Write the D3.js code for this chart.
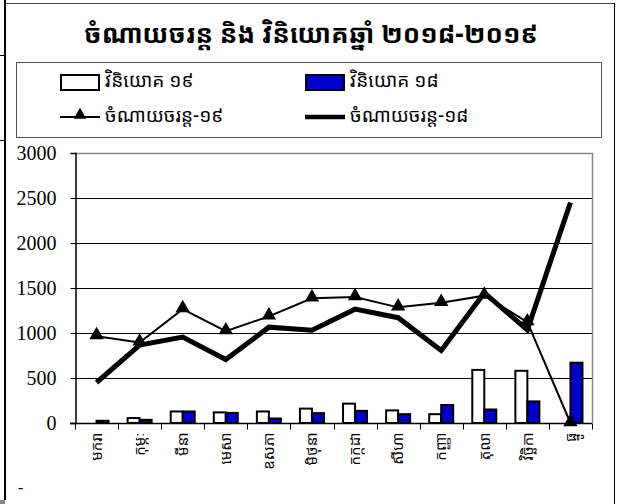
<!DOCTYPE html>
<html><head><meta charset="utf-8">
<script src="https://cdn.jsdelivr.net/npm/d3@7"></script>
<style>
html,body{margin:0;padding:0;background:#fff;}
svg{display:block;}
</style></head>
<body>
<svg id="c" width="623" height="504"></svg>
<script>
const title = "ចំណាយចរន្ត និង វិនិយោគឆ្នាំ ២០១៨-២០១៩";
const months = ["មករា","កុម្ភៈ","មីនា","មេសា","ឧសភា","មិថុនា","កក្កដា","សីហា","កញ្ញា","តុលា","វិច្ឆិកា","ធ្នូ"];
const invest19 = [0, 55, 128, 118, 128, 160, 215, 140, 98, 590, 580, 0];
const invest18 = [25, 35, 128, 112, 50, 110, 135, 98, 200, 150, 240, 670];
const current19 = [965, 895, 1265, 1020, 1185, 1385, 1400, 1285, 1335, 1415, 1120, 0];
const current18 = [450, 865, 955, 705, 1065, 1030, 1265, 1170, 805, 1445, 1035, 2450];
const yTicks = [0, 500, 1000, 1500, 2000, 2500, 3000];
const legendNames = ["វិនិយោគ ១៩", "វិនិយោគ ១៨", "ចំណាយចរន្ត-១៩", "ចំណាយចរន្ត-១៨"];

const svg = d3.select("#c");
const khmer = "'Khmer OS', 'Noto Sans Khmer', 'Khmer OS System', 'DejaVu Sans', sans-serif";

// outer frame
svg.append("line").attr("x1",5).attr("y1",0).attr("x2",5).attr("y2",500).attr("stroke","#000").attr("stroke-width",2);
svg.append("line").attr("x1",5).attr("y1",3.5).attr("x2",614).attr("y2",3.5).attr("stroke","#444").attr("stroke-width",1);
svg.append("line").attr("x1",614.5).attr("y1",3).attr("x2",614.5).attr("y2",504).attr("stroke","#000").attr("stroke-width",1);
svg.append("line").attr("x1",0).attr("y1",55.5).attr("x2",5).attr("y2",55.5).attr("stroke","#000");
svg.append("line").attr("x1",0).attr("y1",140.5).attr("x2",5).attr("y2",140.5).attr("stroke","#000");
svg.append("rect").attr("x",0).attr("y",500).attr("width",5).attr("height",4).attr("fill","#888");

// title
svg.append("text").attr("x",311).attr("y",43).attr("text-anchor","middle")
  .attr("font-family",khmer).attr("font-weight","bold").attr("font-size",26).text(title);

// legend
svg.append("rect").attr("x",16.5).attr("y",62.5).attr("width",585).attr("height",75)
  .attr("fill","#fff").attr("stroke","#555").attr("stroke-width",1);
const lg = svg.append("g").attr("font-family",khmer).attr("font-size",19);
const legCols = [60, 305];
lg.append("rect").attr("x",legCols[0]+1).attr("y",75).attr("width",38).attr("height",15).attr("fill","#fff").attr("stroke","#000").attr("stroke-width",2);
lg.append("rect").attr("x",legCols[1]+1).attr("y",75).attr("width",38).attr("height",15).attr("fill","#0000CC").attr("stroke","#000").attr("stroke-width",2);
lg.append("text").attr("x",legCols[0]+45).attr("y",87).text(legendNames[0]);
lg.append("text").attr("x",legCols[1]+45).attr("y",87).text(legendNames[1]);
lg.append("line").attr("x1",legCols[0]).attr("x2",legCols[0]+40).attr("y1",117).attr("y2",117).attr("stroke","#000").attr("stroke-width",2);
lg.append("path").attr("d",d3.symbol(d3.symbolTriangle,70)()).attr("transform",`translate(${legCols[0]+20},115)`).attr("fill","#000");
lg.append("line").attr("x1",legCols[1]).attr("x2",legCols[1]+40).attr("y1",117).attr("y2",117).attr("stroke","#000").attr("stroke-width",4.5);
lg.append("text").attr("x",legCols[0]+45).attr("y",122).text(legendNames[2]);
lg.append("text").attr("x",legCols[1]+45).attr("y",122).text(legendNames[3]);

// plot
const x0 = 75, x1 = 592, yTop = 153, yBot = 423;
const x = d3.scaleBand().domain(months).range([x0, x1]).paddingInner(0).paddingOuter(0);
const y = d3.scaleLinear().domain([0, 3000]).range([yBot, yTop]);

svg.append("g").selectAll("line").data(yTicks.filter(d=>d>0 && d<3000)).join("line")
  .attr("x1",x0).attr("x2",x1).attr("y1",d=>Math.round(y(d))+0.5).attr("y2",d=>Math.round(y(d))+0.5)
  .attr("stroke","#000").attr("stroke-width",1);
svg.append("line").attr("x1",x0).attr("x2",x1+1).attr("y1",yTop+0.5).attr("y2",yTop+0.5).attr("stroke","#888").attr("stroke-width",1.5);
svg.append("line").attr("x1",x1+0.5).attr("x2",x1+0.5).attr("y1",yTop).attr("y2",yBot).attr("stroke","#888").attr("stroke-width",1.5);

const bw = 12;
const bars = svg.append("g");
bars.selectAll("rect.w").data(months).join("rect").attr("class","w")
  .attr("x",(d)=>x(d)+x.bandwidth()/2-bw)
  .attr("y",(d,i)=>y(invest19[i]))
  .attr("width",bw).attr("height",(d,i)=>Math.max(0,yBot-y(invest19[i])))
  .attr("fill","#fff").attr("stroke","#000").attr("stroke-width",(d,i)=>invest19[i]>0?2:0);
bars.selectAll("rect.b").data(months).join("rect").attr("class","b")
  .attr("x",(d)=>x(d)+x.bandwidth()/2)
  .attr("y",(d,i)=>y(invest18[i]))
  .attr("width",bw).attr("height",(d,i)=>Math.max(0,yBot-y(invest18[i])))
  .attr("fill","#0000CC").attr("stroke","#000").attr("stroke-width",2);

const yAxis = d3.axisLeft(y).tickValues(yTicks).tickSize(5).tickPadding(14).tickFormat(d3.format("d"));
const ya = svg.append("g").attr("transform",`translate(${x0+0.5},0)`).call(yAxis);
ya.select(".domain").attr("stroke","#000").attr("stroke-width",1.5);
ya.selectAll("text").attr("font-family","'Liberation Serif','Times New Roman',serif").attr("font-size",20).attr("fill","#000");

const xa = svg.append("g").attr("transform",`translate(0,${yBot+0.5})`);
xa.append("line").attr("x1",x0-5).attr("x2",x1).attr("y1",0).attr("y2",0).attr("stroke","#000").attr("stroke-width",1.5);
const edges = months.map(m=>x(m)).concat([x1]);
xa.selectAll("line.t").data(edges).join("line").attr("class","t")
  .attr("x1",d=>Math.round(d)+0.5).attr("x2",d=>Math.round(d)+0.5).attr("y1",0).attr("y2",6).attr("stroke","#000");
xa.selectAll("text").data(months).join("text")
  .attr("transform",d=>`translate(${x(d)+x.bandwidth()/2},9) rotate(-90)`)
  .attr("text-anchor","end").attr("dy","0.35em")
  .attr("font-family",khmer).attr("font-size",15).text(d=>d);

const cx = (i)=>x(months[i])+x.bandwidth()/2;
const line = d3.line().x((d,i)=>cx(i)).y(d=>y(d));
svg.append("path").datum(current18).attr("d",line).attr("fill","none").attr("stroke","#000").attr("stroke-width",5).attr("stroke-linejoin","miter");
svg.append("path").datum(current19).attr("d",line).attr("fill","none").attr("stroke","#000").attr("stroke-width",2);
svg.append("g").selectAll("path").data(current19).join("path")
  .attr("d",d3.symbol(d3.symbolTriangle,90)())
  .attr("transform",(d,i)=>`translate(${cx(i)},${y(d)-1})`).attr("fill","#000");

svg.append("text").attr("x",18).attr("y",493).attr("font-family","'Liberation Serif',serif").attr("font-size",16).text("-");
</script>
</body></html>
